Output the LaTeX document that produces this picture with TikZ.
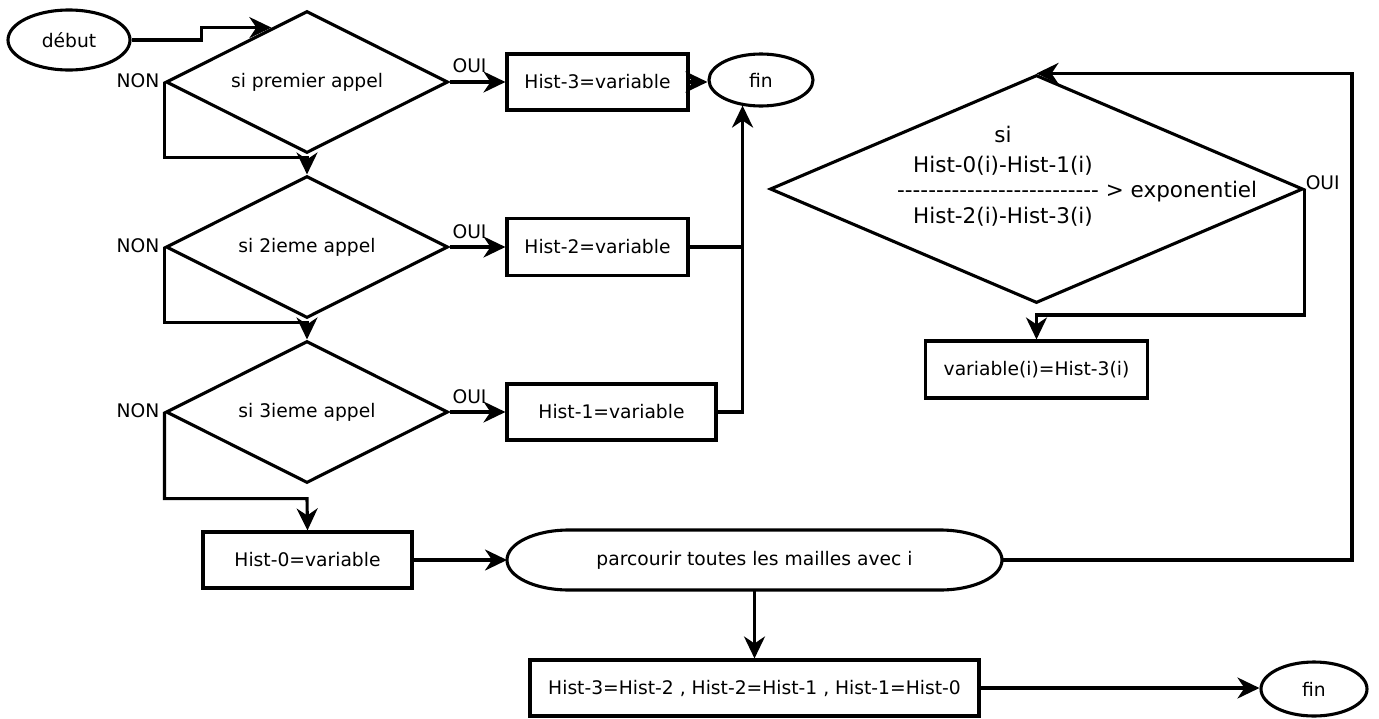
\documentclass[tikz,border=0pt]{standalone}
\usepackage{fontspec}
\setmainfont{DejaVu Sans}
\usetikzlibrary{shapes.geometric,arrows.meta,calc}
\newcommand\mydash{\hbox{-}}
\begin{document}
\begin{tikzpicture}[x=1pt,y=-1pt,
  every node/.style={font=\fontsize{18.7pt}{22pt}\selectfont, inner sep=0pt},
  ln/.style={line width=3.1pt},
  arr/.style={ln, -{Stealth[length=22pt,width=21pt,inset=7pt]}},
  boxn/.style={draw, ln, rectangle},
  ell/.style={draw, ln, ellipse},
  dia/.style={draw, ln, diamond, shape aspect=2, minimum width=282pt, minimum height=142pt},
  bigtxt/.style={font=\fontsize{21.5pt}{26pt}\selectfont}
]
\useasboundingbox (0,0) rectangle (1379,718);

% left column
\node[ell, minimum width=122pt, minimum height=60pt] (deb) at (69,40) {début};
\node[dia] (d1) at (307,82) {si premier appel};
\node[dia] (d2) at (307,247) {si 2ieme appel};
\node[dia] (d3) at (307,412) {si 3ieme appel};
\node[boxn, minimum width=209pt, minimum height=56pt] (h0) at (307.5,560) {Hist-0=variable};

% labels
\node[anchor=east] (n1) at ($(d1.west)+(-5,-1)$) {NON};
\node[anchor=east] (n2) at ($(d2.west)+(-5,-1)$) {NON};
\node[anchor=east] (n3) at ($(d3.west)+(-5,-1)$) {NON};
\node (o1) at ($(d1.east)+(20,-16)$) {OUI};
\node (o2) at ($(d2.east)+(20,-15)$) {OUI};
\node (o3) at ($(d3.east)+(20,-15)$) {OUI};

% middle column
\node[boxn, minimum width=181pt, minimum height=56pt] (h3) at (597.5,82) {Hist-3=variable};
\node[boxn, minimum width=181pt, minimum height=57pt] (h2) at (597.5,247) {Hist-2=variable};
\node[boxn, minimum width=209pt, minimum height=56pt] (h1) at (611.5,412) {Hist-1=variable};
\node[ell, minimum width=104pt, minimum height=52pt] (fin1) at (761,80) {fin};

% parcourir
\node[draw=none, minimum width=495pt, minimum height=60pt, outer sep=0pt] (par) at (754.5,560) {parcourir toutes les mailles avec i};
\draw[ln] ([xshift=62pt]par.north west) -- ([xshift=-62pt]par.north east)
  arc[start angle=90, end angle=-90, x radius=62pt, y radius=30pt]
  -- ([xshift=62pt]par.south west)
  arc[start angle=-90, end angle=-270, x radius=62pt, y radius=30pt] -- cycle;

\node[boxn, minimum width=449pt, minimum height=56pt] (big) at (754.5,688) {Hist-3=Hist-2 , Hist-2=Hist-1 , Hist-1=Hist-0};
\node[ell, minimum width=106pt, minimum height=54pt] (fin2) at (1314,689) {fin};

% right part
\node[draw, ln, diamond, shape aspect=2.3, minimum width=533pt, minimum height=228pt] (d4) at (1036.5,189) {};
\node[bigtxt, anchor=base] (t1) at (1003,142) {si};
\node[bigtxt, anchor=base] (t2) at (1003,172) {Hist-0(i)-Hist-1(i)};
\node[bigtxt, anchor=base west] (t3) at (897,197) {\mydash\mydash\mydash\mydash\mydash\mydash\mydash\mydash\mydash\mydash\mydash\mydash\mydash\mydash\mydash\mydash\mydash\mydash\mydash\mydash\mydash\mydash\mydash\mydash\mydash\mydash{} > exponentiel};
\node[bigtxt, anchor=base] (t4) at (1003,223) {Hist-2(i)-Hist-3(i)};
\node[anchor=west] (o4) at ($(d4.east)+(1,-6)$) {OUI};
\node[boxn, minimum width=222pt, minimum height=57pt] (var) at (1036.5,369.5) {variable(i)=Hist-3(i)};

% connectors
\draw[arr] (deb.east) -- ++(70,0) |- ($(d1.north)!0.25!(d1.west)$);
\draw[arr] (d1.west) |- ($(d1.south)+(0,3)$) -- (d2.north);
\draw[arr] (d2.west) |- ($(d2.south)+(0,3)$) -- (d3.north);
\draw[arr] (d3.west) |- ($(d3.south)+(0,14)$) -- (h0.north);
\draw[arr] (d1.east) -- (h3.west);
\draw[arr] (d2.east) -- (h2.west);
\draw[arr] (d3.east) -- (h1.west);
\draw[arr] (h3.east) -- (h3.east -| fin1.west);
\coordinate (j) at ($(h1.east)+(25,0)$);
\draw[arr] (h1.east) -- (j) -- ($(j |- fin1.south)+(0,-2)$);
\draw[ln] (h2.east) -- (h2.east -| j);
\draw[arr] (h0.east) -- (par.west);
\draw[arr] (par.east) -- ++(350,0) |- (d4.north);
\draw[arr] (d4.east) -- ++(0,126) -| (var.north);
\draw[arr] (par.south) -- (par.south |- big.north);
\draw[arr] (big.east) -- (big.east -| fin2.west);
\end{tikzpicture}
\end{document}
